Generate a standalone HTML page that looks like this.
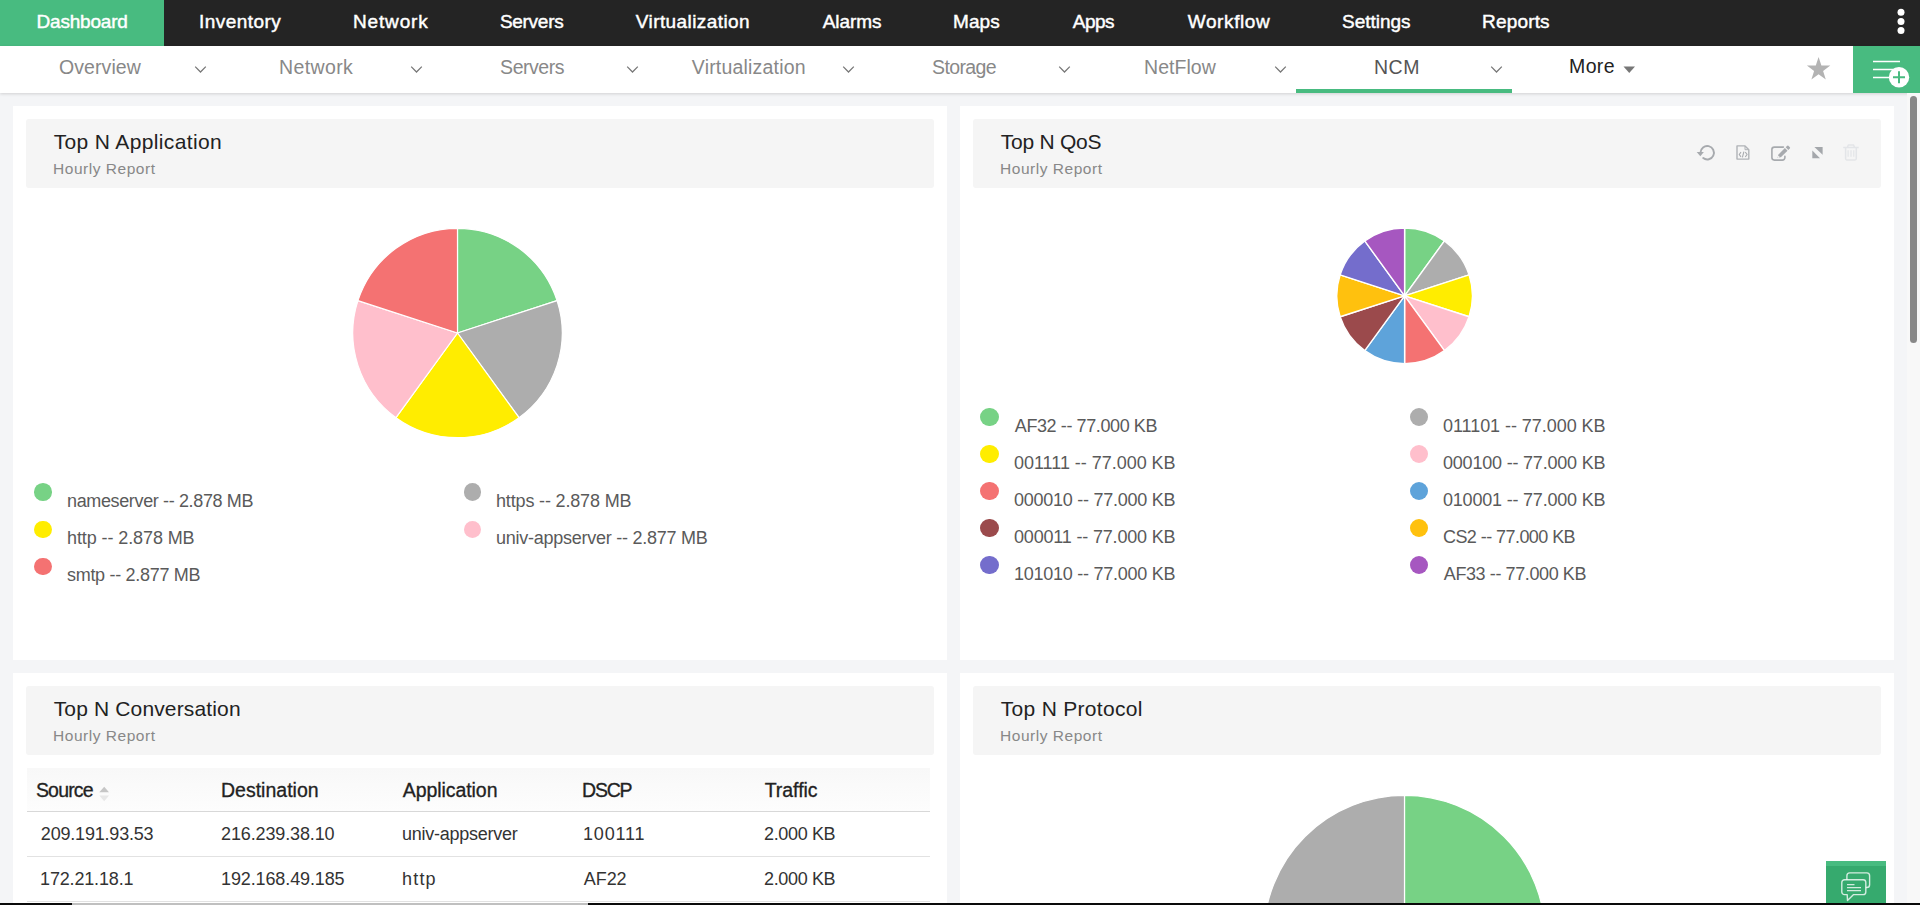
<!DOCTYPE html>
<html><head><meta charset="utf-8"><title>Dashboard</title>
<style>
html,body{margin:0;padding:0}
body{width:1920px;height:905px;overflow:hidden;position:relative;background:#f4f5f7;font-family:'Liberation Sans', sans-serif}
.abs{position:absolute}
.t{position:absolute;white-space:pre;line-height:1}
.dot{position:absolute;width:17.6px;height:17.6px;border-radius:50%}
.panel{position:absolute;background:#fff}
.hd{position:absolute;background:#f5f5f5;border-radius:3px}
</style></head><body>
<div class="abs" style="left:0;top:0;width:1920px;height:45.6px;background:#242424"></div>
<div class="abs" style="left:0;top:0;width:164px;height:45.6px;background:#48bb80"></div>
<div class="abs" style="left:0;top:45.6px;width:1920px;height:47.2px;background:#fff;box-shadow:0 1px 3px rgba(0,0,0,.15)"></div>
<div class="abs" style="left:1296px;top:89px;width:216px;height:3.8px;background:#48bb80"></div>
<div class="abs" style="left:1853px;top:45.6px;width:67px;height:47.2px;background:#48bb80"></div>
<svg class="abs" style="left:1890px;top:5px" width="22" height="34" viewBox="0 0 22 34"><circle cx="11" cy="7.2" r="3.5" fill="#fff"/><circle cx="11" cy="16.5" r="3.5" fill="#fff"/><circle cx="11" cy="25.6" r="3.5" fill="#fff"/></svg>
<svg class="abs" style="left:193.5px;top:65px" width="13" height="9" viewBox="0 0 13 9"><path d="M1.2 1.6L6.5 7L11.8 1.6" fill="none" stroke="#777" stroke-width="1.25"/></svg><svg class="abs" style="left:410px;top:65px" width="13" height="9" viewBox="0 0 13 9"><path d="M1.2 1.6L6.5 7L11.8 1.6" fill="none" stroke="#777" stroke-width="1.25"/></svg><svg class="abs" style="left:625.5px;top:65px" width="13" height="9" viewBox="0 0 13 9"><path d="M1.2 1.6L6.5 7L11.8 1.6" fill="none" stroke="#777" stroke-width="1.25"/></svg><svg class="abs" style="left:841.5px;top:65px" width="13" height="9" viewBox="0 0 13 9"><path d="M1.2 1.6L6.5 7L11.8 1.6" fill="none" stroke="#777" stroke-width="1.25"/></svg><svg class="abs" style="left:1057.5px;top:65px" width="13" height="9" viewBox="0 0 13 9"><path d="M1.2 1.6L6.5 7L11.8 1.6" fill="none" stroke="#777" stroke-width="1.25"/></svg><svg class="abs" style="left:1273.5px;top:65px" width="13" height="9" viewBox="0 0 13 9"><path d="M1.2 1.6L6.5 7L11.8 1.6" fill="none" stroke="#777" stroke-width="1.25"/></svg><svg class="abs" style="left:1489.5px;top:65px" width="13" height="9" viewBox="0 0 13 9"><path d="M1.2 1.6L6.5 7L11.8 1.6" fill="none" stroke="#777" stroke-width="1.25"/></svg>
<svg class="abs" style="left:1622px;top:65px" width="14" height="9" viewBox="0 0 14 9"><path d="M1.5 1.5H13L7.25 8Z" fill="#777"/></svg>
<svg class="abs" style="left:1806px;top:56px" width="26" height="26" viewBox="0 0 26 26"><path d="M12.6 0.9L15.4 9.6H24.3L17.1 14.9L19.8 23.6L12.6 18.3L5.4 23.6L8.1 14.9L0.9 9.6H9.8Z" fill="#b3b3b3"/></svg>
<svg class="abs" style="left:1868px;top:56px" width="44" height="36" viewBox="0 0 44 36"><path d="M5 5.5H32M5 13.5H32M5 21.5H32" stroke="#fff" stroke-width="1.3"/><circle cx="31" cy="21.3" r="10.2" fill="#fff"/><path d="M25 21.3H37M31 15.3V27.3" stroke="#48bb80" stroke-width="2"/></svg>

<div class="panel" style="left:13px;top:106px;width:934px;height:554px"></div>
<div class="panel" style="left:960px;top:106px;width:934px;height:554px"></div>
<div class="panel" style="left:13px;top:673px;width:934px;height:240px"></div>
<div class="panel" style="left:960px;top:673px;width:934px;height:240px"></div>
<div class="hd" style="left:26px;top:119px;width:908px;height:69px"></div>
<div class="hd" style="left:973px;top:119px;width:908px;height:69px"></div>
<div class="hd" style="left:26px;top:686px;width:908px;height:69px"></div>
<div class="hd" style="left:973px;top:686px;width:908px;height:69px"></div>


<svg class="abs" style="left:1690px;top:138px" width="180" height="30" viewBox="0 0 180 30">
<g fill="none" stroke="#a7aaae" stroke-width="1.9">
<path d="M10.5 14.6A6.7 6.7 0 1 1 13.2 20.1" stroke-linecap="round"/>
</g>
<path d="M6.7 14L13.9 14L10.3 18.3Z" fill="#a7aaae"/>
<g fill="none" stroke="#b0b3b7" stroke-width="1.4" stroke-linejoin="round">
<path d="M47 7.9H55L58.8 11.7V21.1H47Z"/>
<path d="M55 7.9V11.7H58.8" stroke-width="1"/>
<path d="M51 14.2L49.2 16.5L51 18.8M55.3 14.2L57.1 16.5L55.3 18.8M53.9 13.6L52.4 19.4" stroke-width="1.1" stroke="#a7aaae"/>
</g>
<g fill="none" stroke="#a7aaae" stroke-width="1.6" stroke-linecap="round">
<path d="M93.4 9.1H84.4A2.5 2.5 0 0 0 81.9 11.6V19.6A2.5 2.5 0 0 0 84.4 22.1H92.4A2.5 2.5 0 0 0 94.9 19.6V18.4"/>
</g>
<path d="M87.5 20.1L88.5 16.5L94.9 10.1L97.5 12.7L91.1 19.1Z" fill="#a7aaae"/>
<path d="M95.7 9.3L97.3 7.7A0.8 0.8 0 0 1 98.4 7.7L99.9 9.2A0.8 0.8 0 0 1 99.9 10.3L98.3 11.9Z" fill="#a7aaae"/>
<circle cx="88.6" cy="19" r="0.9" fill="#f5f5f5"/>
<path d="M124.4 9.1H132.6V16.7Z" fill="#a4a7ab"/>
<path d="M122.3 12.4V20.2H130Z" fill="#a4a7ab"/>
<g fill="none" stroke="#e3e5e8" stroke-width="1.5" stroke-linejoin="round">
<path d="M153.2 9.5H168.7"/>
<path d="M157.5 9.3L158.3 6.9H163.6L164.4 9.3"/>
<path d="M155.6 9.8V20.6A1.3 1.3 0 0 0 156.9 21.9H165A1.3 1.3 0 0 0 166.3 20.6V9.8"/>
<path d="M158.1 12.2V18.8M161 12.2V18.8M163.8 12.2V18.8" stroke-width="1.2"/>
</g>
</svg>


<svg class="abs" style="left:0;top:0" width="1920" height="905" viewBox="0 0 1920 905"><path d="M457.5 333L457.50 228.30A104.7 104.7 0 0 1 557.08 300.65Z" fill="#77d285" stroke="#fff" stroke-width="1.2" stroke-linejoin="round"/><path d="M457.5 333L557.08 300.65A104.7 104.7 0 0 1 519.04 417.70Z" fill="#adadad" stroke="#fff" stroke-width="1.2" stroke-linejoin="round"/><path d="M457.5 333L519.04 417.70A104.7 104.7 0 0 1 395.96 417.70Z" fill="#ffed00" stroke="#fff" stroke-width="1.2" stroke-linejoin="round"/><path d="M457.5 333L395.96 417.70A104.7 104.7 0 0 1 357.92 300.65Z" fill="#ffbfcc" stroke="#fff" stroke-width="1.2" stroke-linejoin="round"/><path d="M457.5 333L357.92 300.65A104.7 104.7 0 0 1 457.50 228.30Z" fill="#f47272" stroke="#fff" stroke-width="1.2" stroke-linejoin="round"/><path d="M1404.6 295.8L1404.60 228.00A67.8 67.8 0 0 1 1444.45 240.95Z" fill="#77d285" stroke="#fff" stroke-width="1.4" stroke-linejoin="round"/><path d="M1404.6 295.8L1444.45 240.95A67.8 67.8 0 0 1 1469.08 274.85Z" fill="#adadad" stroke="#fff" stroke-width="1.4" stroke-linejoin="round"/><path d="M1404.6 295.8L1469.08 274.85A67.8 67.8 0 0 1 1469.08 316.75Z" fill="#ffed00" stroke="#fff" stroke-width="1.4" stroke-linejoin="round"/><path d="M1404.6 295.8L1469.08 316.75A67.8 67.8 0 0 1 1444.45 350.65Z" fill="#ffbfcc" stroke="#fff" stroke-width="1.4" stroke-linejoin="round"/><path d="M1404.6 295.8L1444.45 350.65A67.8 67.8 0 0 1 1404.60 363.60Z" fill="#f47272" stroke="#fff" stroke-width="1.4" stroke-linejoin="round"/><path d="M1404.6 295.8L1404.60 363.60A67.8 67.8 0 0 1 1364.75 350.65Z" fill="#5ea3da" stroke="#fff" stroke-width="1.4" stroke-linejoin="round"/><path d="M1404.6 295.8L1364.75 350.65A67.8 67.8 0 0 1 1340.12 316.75Z" fill="#9b4a4c" stroke="#fff" stroke-width="1.4" stroke-linejoin="round"/><path d="M1404.6 295.8L1340.12 316.75A67.8 67.8 0 0 1 1340.12 274.85Z" fill="#ffc10e" stroke="#fff" stroke-width="1.4" stroke-linejoin="round"/><path d="M1404.6 295.8L1340.12 274.85A67.8 67.8 0 0 1 1364.75 240.95Z" fill="#746dcc" stroke="#fff" stroke-width="1.4" stroke-linejoin="round"/><path d="M1404.6 295.8L1364.75 240.95A67.8 67.8 0 0 1 1404.60 228.00Z" fill="#a657c0" stroke="#fff" stroke-width="1.4" stroke-linejoin="round"/><path d="M1404.5 936L1404.50 795.30A140.7 140.7 0 0 1 1404.50 1076.70Z" fill="#77d285" stroke="#fff" stroke-width="1.2" stroke-linejoin="round"/><path d="M1404.5 936L1404.50 1076.70A140.7 140.7 0 0 1 1404.50 795.30Z" fill="#adadad" stroke="#fff" stroke-width="1.2" stroke-linejoin="round"/></svg>
<i class="dot" style="left:34.00px;top:483.40px;width:17.6px;height:17.6px;background:#77d285"></i><i class="dot" style="left:34.00px;top:520.50px;width:17.6px;height:17.6px;background:#ffed00"></i><i class="dot" style="left:34.00px;top:557.70px;width:17.6px;height:17.6px;background:#f47272"></i><i class="dot" style="left:463.60px;top:483.40px;width:17.6px;height:17.6px;background:#adadad"></i><i class="dot" style="left:463.60px;top:520.50px;width:17.6px;height:17.6px;background:#ffbfcc"></i><i class="dot" style="left:980.40px;top:407.55px;width:18.2px;height:18.2px;background:#77d285"></i><i class="dot" style="left:1409.50px;top:407.55px;width:18.2px;height:18.2px;background:#adadad"></i><i class="dot" style="left:980.40px;top:444.55px;width:18.2px;height:18.2px;background:#ffed00"></i><i class="dot" style="left:1409.50px;top:444.55px;width:18.2px;height:18.2px;background:#ffbfcc"></i><i class="dot" style="left:980.40px;top:481.55px;width:18.2px;height:18.2px;background:#f47272"></i><i class="dot" style="left:1409.50px;top:481.55px;width:18.2px;height:18.2px;background:#5ea3da"></i><i class="dot" style="left:980.40px;top:518.55px;width:18.2px;height:18.2px;background:#9b4a4c"></i><i class="dot" style="left:1409.50px;top:518.55px;width:18.2px;height:18.2px;background:#ffc10e"></i><i class="dot" style="left:980.40px;top:555.55px;width:18.2px;height:18.2px;background:#746dcc"></i><i class="dot" style="left:1409.50px;top:555.55px;width:18.2px;height:18.2px;background:#a657c0"></i>

<div class="abs" style="left:27px;top:768px;width:903px;height:43px;background:linear-gradient(#f8f8f8,#fdfdfd)"></div>
<div class="abs" style="left:27px;top:811px;width:903px;height:1px;background:#d8d8d8"></div>
<div class="abs" style="left:27px;top:856px;width:903px;height:1px;background:#e2e2e2"></div>
<div class="abs" style="left:27px;top:901px;width:903px;height:1px;background:#e2e2e2"></div>
<svg class="abs" style="left:99px;top:786px" width="12" height="16" viewBox="0 0 12 16"><path d="M0.3 6.2L5.2 0.8L10 6.2Z" fill="#c6c6c6"/><path d="M0.3 9.4H10L5.2 15.2Z" fill="#e8e8e8"/></svg>

<span class="t" style="left:36.56px;top:12px;font-size:19px;font-weight:400;color:#fff;letter-spacing:-0.197px;-webkit-text-stroke:0.45px #fff;">Dashboard</span><span class="t" style="left:199.10px;top:12px;font-size:19px;font-weight:400;color:#fff;letter-spacing:0.443px;-webkit-text-stroke:0.45px #fff;">Inventory</span><span class="t" style="left:353.00px;top:12px;font-size:19px;font-weight:400;color:#fff;letter-spacing:0.835px;-webkit-text-stroke:0.45px #fff;">Network</span><span class="t" style="left:499.90px;top:12px;font-size:19px;font-weight:400;color:#fff;letter-spacing:-0.278px;-webkit-text-stroke:0.45px #fff;">Servers</span><span class="t" style="left:635.80px;top:12px;font-size:19px;font-weight:400;color:#fff;letter-spacing:0.412px;-webkit-text-stroke:0.45px #fff;">Virtualization</span><span class="t" style="left:822.70px;top:12px;font-size:19px;font-weight:400;color:#fff;letter-spacing:-0.045px;-webkit-text-stroke:0.45px #fff;">Alarms</span><span class="t" style="left:953.05px;top:12px;font-size:19px;font-weight:400;color:#fff;letter-spacing:0.044px;-webkit-text-stroke:0.45px #fff;">Maps</span><span class="t" style="left:1072.70px;top:12px;font-size:19px;font-weight:400;color:#fff;letter-spacing:-0.471px;-webkit-text-stroke:0.45px #fff;">Apps</span><span class="t" style="left:1187.70px;top:12px;font-size:19px;font-weight:400;color:#fff;letter-spacing:0.617px;-webkit-text-stroke:0.45px #fff;">Workflow</span><span class="t" style="left:1342.00px;top:12px;font-size:19px;font-weight:400;color:#fff;letter-spacing:-0.008px;-webkit-text-stroke:0.45px #fff;">Settings</span><span class="t" style="left:1482.00px;top:12px;font-size:19px;font-weight:400;color:#fff;letter-spacing:0.178px;-webkit-text-stroke:0.45px #fff;">Reports</span><span class="t" style="left:59.00px;top:58px;font-size:19.5px;font-weight:400;color:#888;letter-spacing:0.074px;">Overview</span><span class="t" style="left:279.00px;top:58px;font-size:19.5px;font-weight:400;color:#888;letter-spacing:0.378px;">Network</span><span class="t" style="left:500.10px;top:58px;font-size:19.5px;font-weight:400;color:#888;letter-spacing:-0.465px;">Servers</span><span class="t" style="left:691.80px;top:58px;font-size:19.5px;font-weight:400;color:#888;letter-spacing:0.193px;">Virtualization</span><span class="t" style="left:932.00px;top:58px;font-size:19.5px;font-weight:400;color:#888;letter-spacing:-0.619px;">Storage</span><span class="t" style="left:1144.00px;top:58px;font-size:19.5px;font-weight:400;color:#888;letter-spacing:0.045px;">NetFlow</span><span class="t" style="left:1374.00px;top:58px;font-size:19.5px;font-weight:400;color:#555;letter-spacing:0.539px;">NCM</span><span class="t" style="left:1569.00px;top:57px;font-size:19.5px;font-weight:400;color:#222;letter-spacing:0.387px;">More</span><span class="t" style="left:53.68px;top:131px;font-size:21px;font-weight:400;color:#222;letter-spacing:0.360px;">Top N Application</span><span class="t" style="left:53.10px;top:161px;font-size:15.5px;font-weight:400;color:#888;letter-spacing:0.525px;">Hourly Report</span><span class="t" style="left:1000.80px;top:131px;font-size:21px;font-weight:400;color:#222;letter-spacing:-0.252px;">Top N QoS</span><span class="t" style="left:1000.10px;top:161px;font-size:15.5px;font-weight:400;color:#888;letter-spacing:0.525px;">Hourly Report</span><span class="t" style="left:53.68px;top:698px;font-size:21px;font-weight:400;color:#222;letter-spacing:0.146px;">Top N Conversation</span><span class="t" style="left:53.10px;top:728px;font-size:15.5px;font-weight:400;color:#888;letter-spacing:0.525px;">Hourly Report</span><span class="t" style="left:1000.80px;top:698px;font-size:21px;font-weight:400;color:#222;letter-spacing:0.297px;">Top N Protocol</span><span class="t" style="left:1000.10px;top:728px;font-size:15.5px;font-weight:400;color:#888;letter-spacing:0.525px;">Hourly Report</span><span class="t" style="left:67.00px;top:492px;font-size:18px;font-weight:400;color:#5a5a5a;letter-spacing:-0.361px;">nameserver -- 2.878 MB</span><span class="t" style="left:67.00px;top:529px;font-size:18px;font-weight:400;color:#5a5a5a;letter-spacing:-0.097px;">http -- 2.878 MB</span><span class="t" style="left:67.00px;top:566px;font-size:18px;font-weight:400;color:#5a5a5a;letter-spacing:-0.303px;">smtp -- 2.877 MB</span><span class="t" style="left:496.00px;top:492px;font-size:18px;font-weight:400;color:#5a5a5a;letter-spacing:-0.160px;">https -- 2.878 MB</span><span class="t" style="left:496.00px;top:529px;font-size:18px;font-weight:400;color:#5a5a5a;letter-spacing:-0.255px;">univ-appserver -- 2.877 MB</span><span class="t" style="left:1014.80px;top:417px;font-size:18px;font-weight:400;color:#5a5a5a;letter-spacing:-0.400px;">AF32 -- 77.000 KB</span><span class="t" style="left:1443.00px;top:417px;font-size:18px;font-weight:400;color:#5a5a5a;letter-spacing:-0.053px;">011101 -- 77.000 KB</span><span class="t" style="left:1014.00px;top:454px;font-size:18px;font-weight:400;color:#5a5a5a;letter-spacing:-0.029px;">001111 -- 77.000 KB</span><span class="t" style="left:1443.00px;top:454px;font-size:18px;font-weight:400;color:#5a5a5a;letter-spacing:-0.201px;">000100 -- 77.000 KB</span><span class="t" style="left:1014.00px;top:491px;font-size:18px;font-weight:400;color:#5a5a5a;letter-spacing:-0.251px;">000010 -- 77.000 KB</span><span class="t" style="left:1443.00px;top:491px;font-size:18px;font-weight:400;color:#5a5a5a;letter-spacing:-0.201px;">010001 -- 77.000 KB</span><span class="t" style="left:1014.00px;top:528px;font-size:18px;font-weight:400;color:#5a5a5a;letter-spacing:-0.178px;">000011 -- 77.000 KB</span><span class="t" style="left:1443.00px;top:528px;font-size:18px;font-weight:400;color:#5a5a5a;letter-spacing:-0.565px;">CS2 -- 77.000 KB</span><span class="t" style="left:1014.00px;top:565px;font-size:18px;font-weight:400;color:#5a5a5a;letter-spacing:-0.251px;">101010 -- 77.000 KB</span><span class="t" style="left:1443.80px;top:565px;font-size:18px;font-weight:400;color:#5a5a5a;letter-spacing:-0.400px;">AF33 -- 77.000 KB</span><span class="t" style="left:35.95px;top:781px;font-size:19.5px;font-weight:400;color:#222;letter-spacing:-0.829px;-webkit-text-stroke:0.3px #222;">Source</span><span class="t" style="left:221.00px;top:781px;font-size:19.5px;font-weight:400;color:#222;letter-spacing:0.004px;-webkit-text-stroke:0.3px #222;">Destination</span><span class="t" style="left:402.80px;top:781px;font-size:19.5px;font-weight:400;color:#222;letter-spacing:-0.071px;-webkit-text-stroke:0.3px #222;">Application</span><span class="t" style="left:582.10px;top:781px;font-size:19.5px;font-weight:400;color:#222;letter-spacing:-1.229px;-webkit-text-stroke:0.3px #222;">DSCP</span><span class="t" style="left:764.70px;top:781px;font-size:19.5px;font-weight:400;color:#222;letter-spacing:-0.032px;-webkit-text-stroke:0.3px #222;">Traffic</span><span class="t" style="left:40.85px;top:825px;font-size:18px;font-weight:400;color:#333;letter-spacing:-0.194px;">209.191.93.53</span><span class="t" style="left:221.00px;top:825px;font-size:18px;font-weight:400;color:#333;letter-spacing:-0.123px;">216.239.38.10</span><span class="t" style="left:402.00px;top:825px;font-size:18px;font-weight:400;color:#333;letter-spacing:-0.251px;">univ-appserver</span><span class="t" style="left:583.00px;top:825px;font-size:18px;font-weight:400;color:#333;letter-spacing:0.839px;">100111</span><span class="t" style="left:764.00px;top:825px;font-size:18px;font-weight:400;color:#333;letter-spacing:-0.352px;">2.000 KB</span><span class="t" style="left:40.05px;top:870px;font-size:18px;font-weight:400;color:#333;letter-spacing:-0.164px;">172.21.18.1</span><span class="t" style="left:221.00px;top:870px;font-size:18px;font-weight:400;color:#333;letter-spacing:-0.117px;">192.168.49.185</span><span class="t" style="left:402.00px;top:870px;font-size:18px;font-weight:400;color:#333;letter-spacing:1.190px;">http</span><span class="t" style="left:583.80px;top:870px;font-size:18px;font-weight:400;color:#333;letter-spacing:-0.077px;">AF22</span><span class="t" style="left:764.00px;top:870px;font-size:18px;font-weight:400;color:#333;letter-spacing:-0.352px;">2.000 KB</span>

<div class="abs" style="left:1907px;top:93px;width:13px;height:812px;background:#f8f8f8"></div>
<div class="abs" style="left:1910.2px;top:96px;width:6.7px;height:247px;background:#888;border-radius:3.5px"></div>

<div class="abs" style="left:1826px;top:861px;width:60px;height:44px;background:#36aa6e"></div>
<div class="abs" style="left:1826px;top:861px;width:60px;height:5px;background:#48bb80"></div>

<svg class="abs" style="left:1826px;top:861px" width="60" height="42" viewBox="0 0 60 42">
<g fill="none" stroke="#fff" stroke-opacity=".78" stroke-width="1.4" stroke-linejoin="round">
<rect x="20.9" y="11.9" width="22.7" height="14.6" rx="2.8"/>
<path d="M18.5 18.8H37.1A2.7 2.7 0 0 1 39.8 21.5V30.9A2.7 2.7 0 0 1 37.1 33.6H27.6L21.5 39.4L21.2 33.6H18.5A2.7 2.7 0 0 1 15.8 30.9V21.5A2.7 2.7 0 0 1 18.5 18.8Z" fill="#36aa6e"/>
<path d="M21 23.6H28.5M21 26.6H35M21 29.6H35" stroke-width="1.3"/>
</g>
</svg>

<div class="abs" style="left:0;top:903px;width:1920px;height:2px;background:#0a0a0a"></div>
<div class="abs" style="left:72px;top:903px;width:516px;height:2px;background:#c0c0c0"></div>
</body></html>
